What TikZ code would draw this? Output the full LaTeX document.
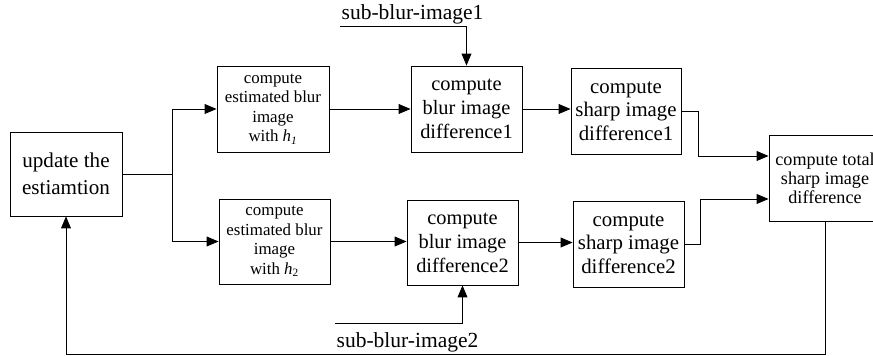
\documentclass[tikz,border=0pt]{standalone}
\usepackage{fontspec}
\setmainfont{Liberation Serif}
\usetikzlibrary{arrows.meta}
\begin{document}
\begin{tikzpicture}[
	blk/.style={shape=rectangle, draw, line width=0.6pt, align=center, inner sep=2pt},
	wire/.style={line width=0.6pt},
	arr/.style={wire, -{Triangle[length=8.5pt, width=7pt]}},
	]
	\useasboundingbox (0,0) rectangle (21.825,8.9);
	% Blocks:
	\node[blk, minimum width=2.8cm, minimum height=2.1cm, font=\fontsize{15}{19}\selectfont] (upd) at (1.65, 4.55){update the\\estiamtion};
	\node[blk, minimum width=2.8cm, minimum height=2.15cm, font=\fontsize{12}{13.9}\selectfont] (est1) at (6.825, 6.175){compute\\estimated blur\\image\\with \textit{h}\textsubscript{\textit{1}}};
	\node[blk, minimum width=2.775cm, minimum height=2.125cm, font=\fontsize{12}{13.9}\selectfont] (est2) at (6.8625, 2.8625){compute\\estimated blur\\image\\with \textit{h}\textsubscript{2}};
	\node[blk, minimum width=2.775cm, minimum height=2.15cm, font=\fontsize{14.5}{17}\selectfont] (bdiff1) at (11.6625, 6.175){compute\\blur image\\difference1};
	\node[blk, minimum width=2.775cm, minimum height=2.125cm, font=\fontsize{14.5}{17}\selectfont] (bdiff2) at (11.5625, 2.8375){compute\\blur image\\difference2};
	\node[blk, minimum width=2.75cm, minimum height=2.15cm, font=\fontsize{14.8}{16.6}\selectfont] (sdiff1) at (15.65, 6.125){compute\\sharp image\\difference1};
	\node[blk, minimum width=2.775cm, minimum height=2.15cm, font=\fontsize{14.8}{16.6}\selectfont] (sdiff2) at (15.7125, 2.8){compute\\sharp image\\difference2};
	\node[blk, minimum width=2.8cm, minimum height=2.15cm, font=\fontsize{12.9}{13.6}\selectfont] (total) at (20.625, 4.45){compute total\\sharp image\\difference};
	% Coordinates for free ends and bends:
	\coordinate (fork) at (4.3, 4.55);
	\coordinate (sub1) at (8.5, 8.25);
	\coordinate (sub2) at (8.375, 0.825);
	\coordinate (fb) at (0, 0.05);
	\coordinate (in1) at (20, 5.0);
	\coordinate (in2) at (20, 3.925);
	% Wires:
	\draw[wire] (upd.east |- fork) -- (fork);
	\draw[arr] (fork) |- (est1.west);
	\draw[arr] (fork) |- (est2.west);
	\draw[arr] (est1.east) -- (est1.east -| bdiff1.west);
	\draw[arr] (est2.east) -- (est2.east -| bdiff2.west);
	\draw[arr] (bdiff1.east) -- (bdiff1.east -| sdiff1.west);
	\draw[arr] (bdiff2.east) -- (bdiff2.east -| sdiff2.west);
	\draw[arr] (sdiff1.east) -- ++(0.425,0) |- (in1 -| total.west);
	\draw[arr] (sdiff2.east) -- ++(0.4,0) |- (in2 -| total.west);
	\draw[arr] (sub1) -- (sub1 -| bdiff1.north) -- (bdiff1.north);
	\draw[arr] (sub2) -- (sub2 -| bdiff2.south) -- (bdiff2.south);
	\draw[arr] (total.south) -- (total.south |- fb) -| (upd.south);
	% Labels:
	\node[anchor=south west, inner sep=1pt, font=\fontsize{15.3}{18}\selectfont] (lab1) at (sub1){sub-blur-image1};
	\node[anchor=north west, inner sep=1pt, font=\fontsize{15.3}{18}\selectfont] (lab2) at ([yshift=-0.2cm]sub2){sub-blur-image2};
\end{tikzpicture}
\end{document}
